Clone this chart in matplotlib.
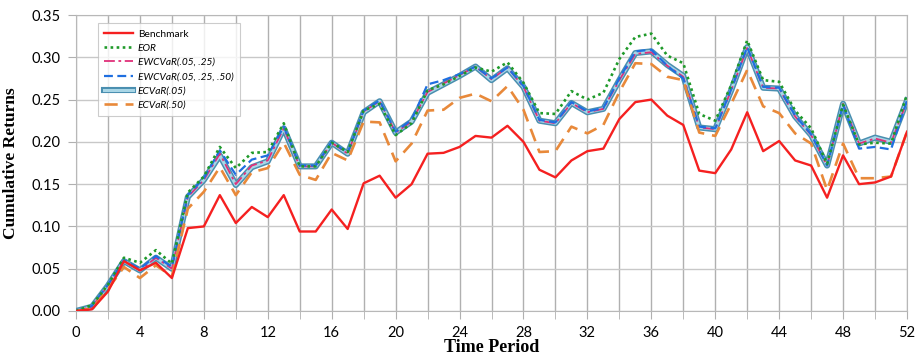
import matplotlib
matplotlib.use("Agg")
import matplotlib.pyplot as plt
import matplotlib.patheffects as pe
import numpy as np

# --- Data ---
periods = np.arange(53)

benchmark = [0.000, 0.002, 0.023, 0.059, 0.048, 0.057, 0.039, 0.098, 0.100, 0.137,
             0.104, 0.123, 0.111, 0.137, 0.094, 0.094, 0.120, 0.097, 0.151, 0.160,
             0.134, 0.150, 0.186, 0.187, 0.194, 0.207, 0.205, 0.219, 0.200, 0.167,
             0.158, 0.178, 0.189, 0.192, 0.227, 0.247, 0.250, 0.231, 0.220, 0.166,
             0.163, 0.191, 0.235, 0.189, 0.201, 0.178, 0.172, 0.134, 0.184, 0.150,
             0.152, 0.159, 0.212]

eor = [0.000, 0.007, 0.031, 0.063, 0.057, 0.072, 0.056, 0.140, 0.159, 0.194,
       0.169, 0.187, 0.188, 0.222, 0.171, 0.171, 0.199, 0.188, 0.237, 0.245,
       0.208, 0.222, 0.261, 0.268, 0.278, 0.288, 0.283, 0.294, 0.270, 0.234,
       0.233, 0.260, 0.250, 0.258, 0.298, 0.324, 0.328, 0.302, 0.293, 0.233,
       0.225, 0.267, 0.320, 0.273, 0.271, 0.237, 0.216, 0.174, 0.244, 0.197,
       0.199, 0.198, 0.256]

ewcvar_2 = [0.000, 0.005, 0.030, 0.059, 0.048, 0.063, 0.050, 0.135, 0.155, 0.186,
            0.150, 0.172, 0.178, 0.216, 0.171, 0.171, 0.199, 0.186, 0.236, 0.248,
            0.211, 0.224, 0.259, 0.269, 0.279, 0.289, 0.274, 0.288, 0.265, 0.225,
            0.222, 0.246, 0.235, 0.239, 0.273, 0.304, 0.306, 0.290, 0.277, 0.217,
            0.215, 0.261, 0.311, 0.264, 0.263, 0.230, 0.208, 0.172, 0.245, 0.198,
            0.204, 0.199, 0.248]

ewcvar_3 = [0.000, 0.006, 0.031, 0.060, 0.050, 0.065, 0.052, 0.137, 0.157, 0.190,
            0.161, 0.179, 0.184, 0.218, 0.172, 0.172, 0.200, 0.187, 0.237, 0.249,
            0.212, 0.226, 0.268, 0.273, 0.280, 0.289, 0.275, 0.288, 0.266, 0.226,
            0.223, 0.247, 0.236, 0.240, 0.275, 0.307, 0.309, 0.290, 0.275, 0.218,
            0.216, 0.262, 0.312, 0.265, 0.264, 0.231, 0.209, 0.172, 0.244, 0.192,
            0.194, 0.191, 0.249]

ecvar_05 = [0.000, 0.005, 0.030, 0.059, 0.048, 0.063, 0.050, 0.135, 0.155, 0.184,
            0.149, 0.170, 0.177, 0.216, 0.171, 0.171, 0.199, 0.186, 0.235, 0.248,
            0.211, 0.224, 0.258, 0.268, 0.278, 0.289, 0.273, 0.287, 0.265, 0.225,
            0.222, 0.246, 0.235, 0.239, 0.273, 0.305, 0.307, 0.291, 0.278, 0.217,
            0.215, 0.261, 0.312, 0.264, 0.263, 0.230, 0.208, 0.172, 0.245, 0.198,
            0.205, 0.200, 0.249]

ecvar_50 = [0.000, 0.003, 0.026, 0.052, 0.039, 0.054, 0.041, 0.121, 0.141, 0.170,
            0.137, 0.164, 0.169, 0.199, 0.161, 0.155, 0.187, 0.178, 0.224, 0.223,
            0.177, 0.198, 0.237, 0.238, 0.252, 0.257, 0.248, 0.266, 0.238, 0.188,
            0.189, 0.218, 0.210, 0.220, 0.259, 0.293, 0.292, 0.277, 0.273, 0.211,
            0.207, 0.245, 0.285, 0.242, 0.234, 0.210, 0.198, 0.143, 0.198, 0.157,
            0.157, 0.159, 0.212]

x_ticks = np.arange(0, 53, 4)
y_ticks = np.arange(0, 0.351, 0.05)

fig = plt.figure(figsize=(9.18, 3.58), dpi=100)
ax = fig.add_axes([76 / 918, 1 - 311 / 358, 831 / 918, 296 / 358])

# ECVaR(.05): thick light-blue line with darker outline
ax.plot(periods, ecvar_05, color="#a9d6e6", linewidth=2.2, zorder=3,
        path_effects=[pe.Stroke(linewidth=4.4, foreground="#4a8fb0"), pe.Normal()],
        label="ECVaR(.05)")
ax.plot(periods, ewcvar_2, color="#e0307a", linewidth=1.3, dashes=(6, 2, 1.5, 2),
        zorder=4, label="EWCVaR(.05, .25)")
ax.plot(periods, ewcvar_3, color="#1f6fe0", linewidth=1.6, dashes=(4, 2),
        zorder=4, label="EWCVaR(.05, .25, .50)")
ax.plot(periods, eor, color="#1f9a2a", linewidth=1.9, linestyle=(0, (1, 1.3)),
        zorder=5, label="EOR")
ax.plot(periods, ecvar_50, color="#e8893a", linewidth=1.9, dashes=(5, 3),
        zorder=4, label="ECVaR(.50)")
ax.plot(periods, benchmark, color="#f52020", linewidth=1.7, zorder=6,
        label="Benchmark")

ax.set_xlim(0, 52)
ax.set_ylim(0, 0.35)
ax.set_xticks(x_ticks)
ax.set_xticks(np.arange(0, 53, 2), minor=True)
ax.set_yticks(y_ticks)
ax.set_yticklabels([f"{v:.2f}" for v in y_ticks])
ax.tick_params(axis="both", which="both", length=6, color="#b0b0b0",
               labelsize=10.5, pad=5)
for lbl in ax.get_xticklabels() + ax.get_yticklabels():
    lbl.set_fontfamily("Lato")

ax.grid(axis="x", which="both", color="#b0b0b0", linewidth=1.0)
ax.grid(axis="y", which="major", color="#c8c8c8", linewidth=1.0)
ax.set_axisbelow(True)
for sp in ax.spines.values():
    sp.set_color("#b8b8b8")

ax.set_xlabel("Time Period", fontfamily="Liberation Serif", fontweight="bold",
              fontsize=13)
ax.set_ylabel("Cumulative Returns", fontfamily="Liberation Serif",
              fontweight="bold", fontsize=12.5)
ax.xaxis.set_label_coords(0.5, -0.093)
ax.yaxis.set_label_coords(-0.068, 0.5)

handles, labels = ax.get_legend_handles_labels()
order = ["Benchmark", "EOR", "EWCVaR(.05, .25)", "EWCVaR(.05, .25, .50)",
         "ECVaR(.05)", "ECVaR(.50)"]
idx = [labels.index(o) for o in order]
leg = ax.legend([handles[i] for i in idx], [labels[i] for i in idx],
                loc="upper left", bbox_to_anchor=(0.026, 0.973),
                borderaxespad=0,
                prop={"family": "Lato", "size": 7.3, "style": "italic"},
                frameon=True, fancybox=False, edgecolor="#c0c0c0",
                handlelength=2.8, handletextpad=0.5, labelspacing=0.5,
                borderpad=0.65)
leg.get_frame().set_linewidth(0.8)
leg.get_texts()[0].set_fontstyle("normal")

fig.savefig("out.png", dpi=100)
